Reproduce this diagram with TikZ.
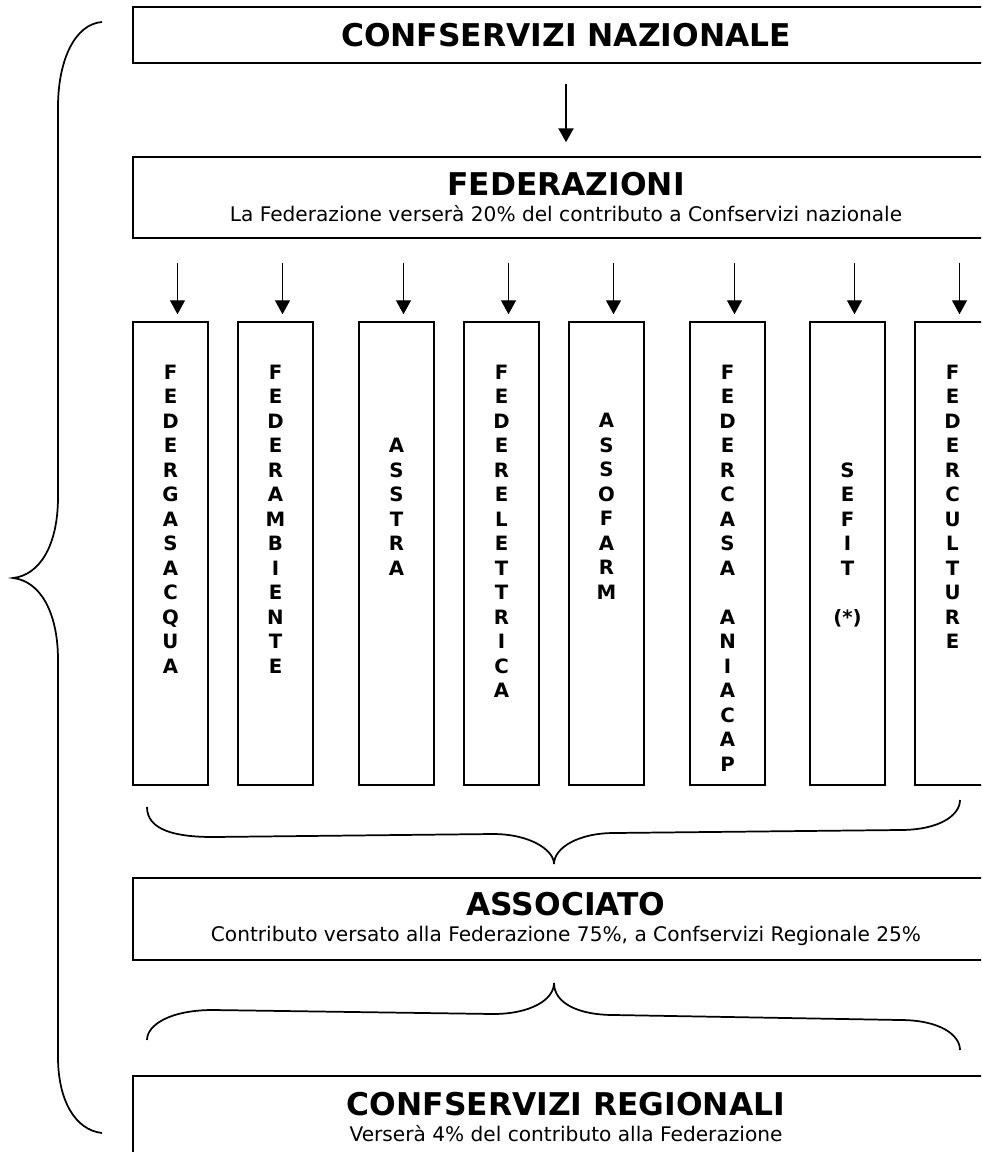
\documentclass[tikz,border=0pt]{standalone}
\usepackage{fontspec}
\setmainfont{DejaVu Sans}
\usetikzlibrary{positioning, arrows.meta}

\newcommand{\boxtitle}{\fontsize{23.5pt}{27pt}\selectfont\bfseries}
\newcommand{\boxsub}{\fontsize{15.1pt}{19.5pt}\selectfont}

\begin{document}
\begin{tikzpicture}[x=0.75pt, y=-0.75pt, line width=1.1pt,
    bigbox/.style={draw, minimum width=649.5pt, inner sep=0pt, align=center, font=\boxsub},
    colbox/.style={draw, minimum width=56.25pt, minimum height=347.25pt, inner sep=0pt},
    coltext/.style={anchor=north, inner sep=0pt, align=center, font=\fontsize{14.8pt}{18.375pt}\selectfont\bfseries},
    arr/.style={-{Triangle[length=10.5pt, width=11.25pt]}, line width=1pt},
    brace/.style={line width=1.3pt}]
    \clip (0,0) rectangle (981,1152);

    % main boxes
    \node (naz)   [bigbox, minimum height=42pt, font=\boxtitle] at (566,35)    {CONFSERVIZI NAZIONALE};
    \node (fed)   [bigbox, minimum height=60.75pt]              at (566,197.5) {{\boxtitle FEDERAZIONI}\\La Federazione verserà 20\% del contributo a Confservizi nazionale};
    \node (assoc) [bigbox, minimum height=61.5pt]               at (566,919)   {{\boxtitle ASSOCIATO}\\Contributo versato alla Federazione 75\%, a Confservizi Regionale 25\%};
    \node (reg)   [bigbox, minimum height=61.5pt]               at (566,1117)  {{\boxtitle CONFSERVIZI REGIONALI}\\Verserà 4\% del contributo alla Federazione};

    % federations
    \node (gas)  [colbox] at (170.5,553.5) {};
    \node (amb)  [colbox] at (275.5,553.5) {};
    \node (tra)  [colbox] at (396.5,553.5) {};
    \node (ele)  [colbox] at (501.5,553.5) {};
    \node (farm) [colbox] at (606.5,553.5) {};
    \node (casa) [colbox] at (727.5,553.5) {};
    \node (fit)  [colbox] at (847.5,553.5) {};
    \node (cult) [colbox] at (952.5,553.5) {};

    \node (gas text)  [coltext, below=32pt of gas.north]      {F\\E\\D\\E\\R\\G\\A\\S\\A\\C\\Q\\U\\A};
    \node (amb text)  [coltext, below=32pt of amb.north]      {F\\E\\D\\E\\R\\A\\M\\B\\I\\E\\N\\T\\E};
    \node (tra text)  [coltext, below=87.1pt of tra.north]    {A\\S\\S\\T\\R\\A};
    \node (ele text)  [coltext, below=32pt of ele.north]      {F\\E\\D\\E\\R\\E\\L\\E\\T\\T\\R\\I\\C\\A};
    \node (farm text) [coltext, below=68.7pt of farm.north]   {A\\S\\S\\O\\F\\A\\R\\M};
    \node (casa text) [coltext, below=32pt of casa.north]     {F\\E\\D\\E\\R\\C\\A\\S\\A\\\mbox{}\\A\\N\\I\\A\\C\\A\\P};
    \node (fit text)  [coltext, below=105.5pt of fit.north]   {S\\E\\F\\I\\T\\\mbox{}\\(*)};
    \node (cult text) [coltext, below=32pt of cult.north]     {F\\E\\D\\E\\R\\C\\U\\L\\T\\U\\R\\E};

    \draw [arr, line width=1.8pt, shorten <=15pt, shorten >=10.5pt] (naz) -- (fed);
    \draw [arr, shorten <=18pt, shorten >=5.25pt] ([xshift=5.25pt]gas.north |- fed.south)  -- ([xshift=5.25pt]gas.north);
    \draw [arr, shorten <=18pt, shorten >=5.25pt] ([xshift=5.25pt]amb.north |- fed.south)  -- ([xshift=5.25pt]amb.north);
    \draw [arr, shorten <=18pt, shorten >=5.25pt] ([xshift=5.25pt]tra.north |- fed.south)  -- ([xshift=5.25pt]tra.north);
    \draw [arr, shorten <=18pt, shorten >=5.25pt] ([xshift=5.25pt]ele.north |- fed.south)  -- ([xshift=5.25pt]ele.north);
    \draw [arr, shorten <=18pt, shorten >=5.25pt] ([xshift=5.25pt]farm.north |- fed.south) -- ([xshift=5.25pt]farm.north);
    \draw [arr, shorten <=18pt, shorten >=5.25pt] ([xshift=5.25pt]casa.north |- fed.south) -- ([xshift=5.25pt]casa.north);
    \draw [arr, shorten <=18pt, shorten >=5.25pt] ([xshift=5.25pt]fit.north |- fed.south)  -- ([xshift=5.25pt]fit.north);
    \draw [arr, shorten <=18pt, shorten >=5.25pt] ([xshift=5.25pt]cult.north |- fed.south) -- ([xshift=5.25pt]cult.north);

    % braces
    \draw [brace] (102,22) .. controls (75,24) and (58,60) .. (58,107) -- (58,497)
        .. controls (58,545) and (40,575) .. (13,578) .. controls (40,581) and (58,612) .. (58,660)
        -- (58,1057) .. controls (58,1100) and (75,1130) .. (102,1133);
    \draw [brace] (147,807) .. controls (147,830) and (175,837) .. (213,837) -- (493,834)
        .. controls (530,834) and (554,850) .. (554,864) .. controls (554,848) and (578,833) .. (614,833)
        -- (900,830) .. controls (940,830) and (960,815) .. (960,800);
    \draw [brace] (147,1040) .. controls (147,1025) and (170,1010) .. (213,1010) -- (493,1014)
        .. controls (530,1014) and (554,1000) .. (554,983) .. controls (554,1003) and (578,1015) .. (614,1015)
        -- (900,1020) .. controls (940,1020) and (960,1035) .. (960,1050);
\end{tikzpicture}
\end{document}
